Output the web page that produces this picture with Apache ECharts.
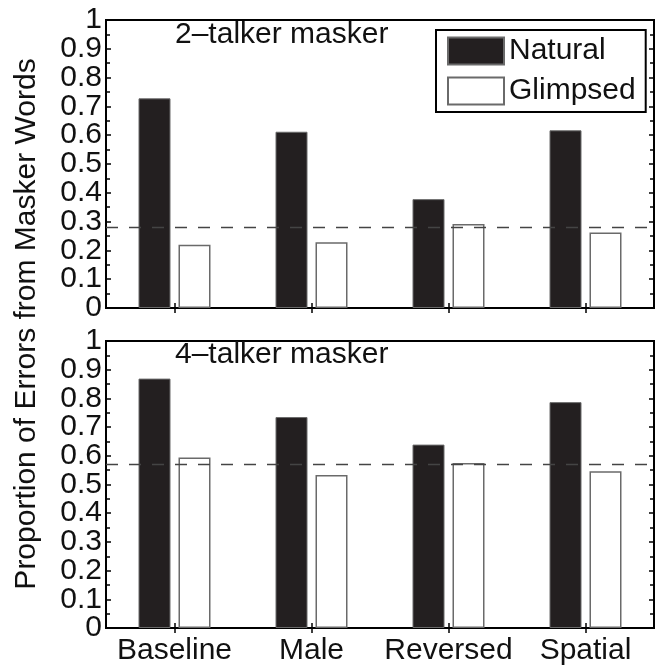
<!DOCTYPE html>
<html>
<head>
<meta charset="utf-8">
<script src="https://cdn.jsdelivr.net/npm/echarts@6/dist/echarts.min.js"></script>
<style>
html,body{margin:0;padding:0;background:#fff;}
#chart{width:657px;height:666px;}
</style>
</head>
<body>
<div id="chart"></div>
<script>
const categories = ['Baseline', 'Male', 'Reversed', 'Spatial'];
const natural2 = [0.728, 0.612, 0.378, 0.617];
const glimpsed2 = [0.220, 0.228, 0.292, 0.262];
const natural4 = [0.869, 0.735, 0.639, 0.787];
const glimpsed4 = [0.594, 0.533, 0.575, 0.546];
const reference2 = 0.285;
const reference4 = 0.571;
const oddTickLabels = [0.1, 0.3, 0.5, 0.7, 0.9];
const panelTitles = ['2\u2013talker masker', '4\u2013talker masker'];
const seriesNames = ['Natural', 'Glimpsed'];
const yTitle = 'Proportion of Errors from Masker Words';

const FONT = 'Liberation Sans, Arial, Helvetica, sans-serif';
const chart = echarts.init(document.getElementById('chart'), null, {renderer: 'canvas'});
const fmt = v => (Math.round(v * 10) / 10).toString();
const labelStyle = {fontSize: 30, fontFamily: FONT, color: '#111', margin: 4, hideOverlap: false, formatter: fmt};

function yTickAx(gi, pos) {
  return {
    type: 'value', gridIndex: gi, position: pos, min: 0, max: 1, interval: 0.1,
    axisLine: {show: false},
    axisTick: {show: true, inside: true, length: 5, lineStyle: {color: '#000', width: 1.5}},
    minorTick: {show: true, splitNumber: 2, length: 4, lineStyle: {color: '#000', width: 1.5}},
    splitLine: {show: false},
    axisLabel: {show: false}
  };
}
function yEvenLabelAx(gi) {
  return {
    type: 'value', gridIndex: gi, position: 'left', min: 0, max: 1, interval: 0.2,
    axisLine: {show: false}, axisTick: {show: false}, splitLine: {show: false},
    axisLabel: Object.assign({show: true, showMinLabel: true, showMaxLabel: true}, labelStyle)
  };
}
function yOddLabelAx(gi) {
  return {
    type: 'value', gridIndex: gi, position: 'left', min: 0, max: 1, interval: 0.1,
    axisLine: {show: false}, axisTick: {show: false}, splitLine: {show: false},
    axisLabel: Object.assign({show: true, customValues: oddTickLabels}, labelStyle)
  };
}
function xAx(gi, pos, showLabel) {
  return {
    type: 'category', gridIndex: gi, position: pos, data: categories,
    boundaryGap: true,
    axisLine: {show: false},
    axisTick: {show: true, inside: true, alignWithLabel: true, interval: 0, length: 5, lineStyle: {color: '#000', width: 1.5}},
    splitLine: {show: false},
    axisLabel: {show: showLabel, interval: 0, hideOverlap: false, fontSize: 30, fontFamily: FONT, color: '#111', margin: 8}
  };
}
function refLine(v) {
  return {
    silent: true, symbol: ['none', 'none'], label: {show: false},
    lineStyle: {type: [12, 11], color: '#444', width: 1.3},
    data: [{yAxis: v}]
  };
}
const barCommon = {type: 'bar', barWidth: 32, barGap: '25%'};
const natStyle = {color: '#231f20', borderColor: '#6a6a6a', borderWidth: 1};
const gliStyle = {color: '#ffffff', borderColor: '#6a6a6a', borderWidth: 1.5};

chart.setOption({
  animation: false,
  backgroundColor: '#fff',
  grid: [
    {left: 106, right: 3, top: 20, height: 288, show: true, borderColor: '#000', borderWidth: 2, backgroundColor: 'transparent'},
    {left: 106, right: 3, top: 341, height: 287, show: true, borderColor: '#000', borderWidth: 2, backgroundColor: 'transparent'}
  ],
  xAxis: [xAx(0, 'bottom', false), xAx(0, 'top', false), xAx(1, 'bottom', true), xAx(1, 'top', false)],
  yAxis: [
    yTickAx(0, 'left'), yTickAx(0, 'right'), yEvenLabelAx(0), yOddLabelAx(0),
    yTickAx(1, 'left'), yTickAx(1, 'right'), yEvenLabelAx(1), yOddLabelAx(1)
  ],
  legend: {
    data: seriesNames, left: 436, top: 30, orient: 'vertical',
    borderColor: '#000', borderWidth: 2, backgroundColor: '#fff', borderRadius: 0,
    padding: [6, 10, 6, 11], itemWidth: 56, itemHeight: 27, itemGap: 10, icon: 'rect',
    textStyle: {fontSize: 30, fontFamily: FONT, color: '#111', lineHeight: 28},
    selectedMode: false
  },
  graphic: [
    {type: 'text', x: 175, y: 35, z: 100, style: {text: panelTitles[0], fontSize: 30, fontFamily: FONT, fill: '#111', align: 'left', verticalAlign: 'middle'}},
    {type: 'text', x: 175, y: 355, z: 100, style: {text: panelTitles[1], fontSize: 30, fontFamily: FONT, fill: '#111', align: 'left', verticalAlign: 'middle'}},
    {type: 'text', x: 27, y: 324, rotation: Math.PI / 2, z: 100, style: {text: yTitle, fontSize: 30, fontFamily: FONT, fill: '#111', align: 'center', verticalAlign: 'middle'}}
  ],
  series: [
    Object.assign({}, barCommon, {name: seriesNames[0], xAxisIndex: 0, yAxisIndex: 0, data: natural2, itemStyle: natStyle}),
    Object.assign({}, barCommon, {name: seriesNames[1], xAxisIndex: 0, yAxisIndex: 0, data: glimpsed2, itemStyle: gliStyle, markLine: refLine(reference2)}),
    Object.assign({}, barCommon, {name: seriesNames[0], xAxisIndex: 2, yAxisIndex: 4, data: natural4, itemStyle: natStyle}),
    Object.assign({}, barCommon, {name: seriesNames[1], xAxisIndex: 2, yAxisIndex: 4, data: glimpsed4, itemStyle: gliStyle, markLine: refLine(reference4)})
  ]
});
</script>
</body>
</html>
